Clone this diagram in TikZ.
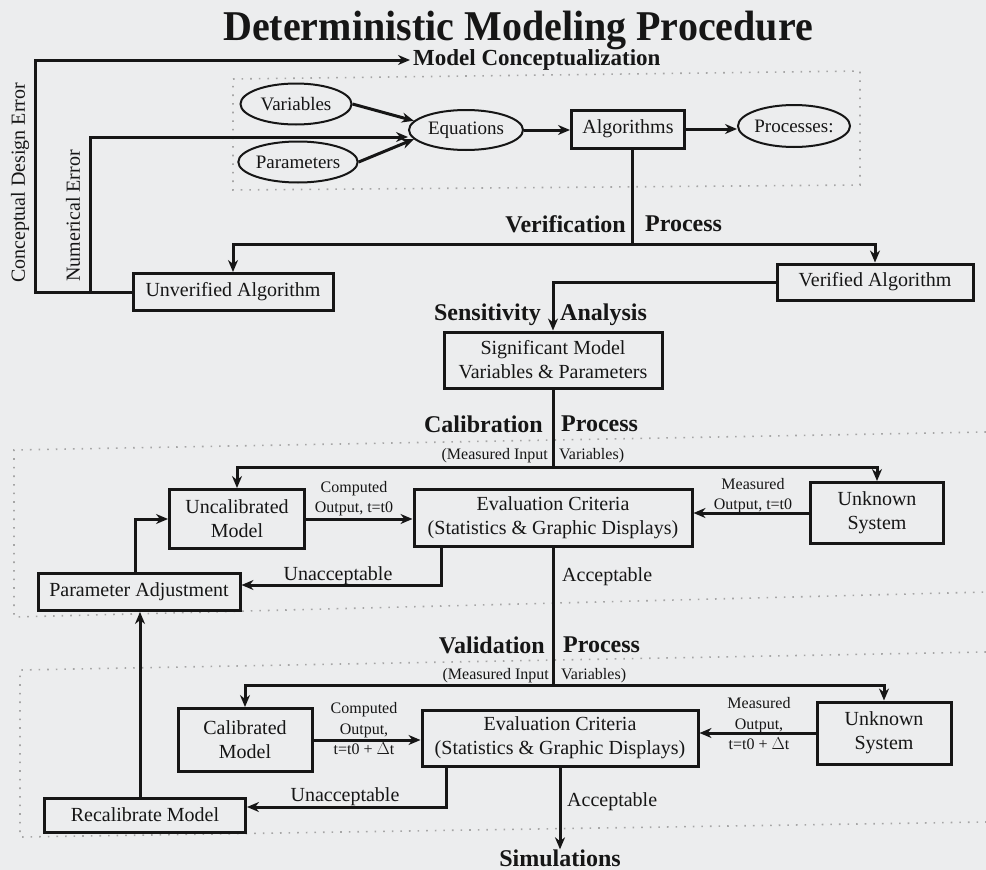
\documentclass[tikz,border=0pt]{standalone}
\usepackage{fontspec}
\usepackage{graphicx}
\setmainfont{Liberation Serif}
\usetikzlibrary{arrows.meta,calc,shapes.geometric}
\definecolor{bg}{RGB}{236,237,238}
\definecolor{ink}{RGB}{22,22,22}
\begin{document}
\begin{tikzpicture}[x=1pt,y=-1pt,
 arr/.style={-{Stealth[length=12pt,width=10pt]}, line width=3pt, draw=ink},
 ln/.style={line width=3pt, draw=ink},
 box/.style={draw=ink, line width=3pt, rectangle, inner sep=0pt, align=center, text=ink, font=\fontsize{20}{24}\selectfont},
 ell/.style={draw=ink, line width=2pt, ellipse, inner sep=0pt, text=ink, font=\fontsize{19}{22}\selectfont},
 lab/.style={font=\fontsize{24}{26}\selectfont\bfseries, inner sep=0pt, text=ink},
 txt/.style={font=\fontsize{20}{22}\selectfont, inner sep=0pt, text=ink},
 sm/.style={font=\fontsize{16}{20}\selectfont, inner sep=0pt, align=center, text=ink},
 dot/.style={line width=1.6pt, draw=gray!70, dash pattern=on 1.6pt off 7pt}]
\fill[bg] (0,0) rectangle (986,870);
\useasboundingbox (0,0) rectangle (986,870);

% dotted groupings
\draw[dot] (233,79) -- (860,71) -- (860,185) -- (233,190) -- cycle;
\draw[dot] (986,432) -- (14,450) -- (14,617) -- (986,592);
\draw[dot] (986,652) -- (20,670) -- (20,837) -- (986,822);

% title
\node[font=\fontsize{40}{44}\selectfont\bfseries, text=ink, anchor=base, inner sep=0pt] (title) at (518,40) {\scalebox{1}[1.06]{Deterministic Modeling Procedure}};
\node[lab, font=\fontsize{23}{26}\selectfont\bfseries, anchor=west, inner xsep=3pt] (mc) at (410,60) {Model Conceptualization};

% conceptualization
\node[ell, minimum width=111pt, minimum height=41pt] (var) at (296,104) {Variables};
\node[ell, minimum width=111pt, minimum height=41pt] (par) at (298,162) {Parameters};
\node[ell, minimum width=114pt, minimum height=40pt] (eq) at (466,130) {Equations};
\node[box, minimum width=113pt, minimum height=38pt] (alg) at (628,129) {Algorithms};
\node[ell, minimum width=112pt, minimum height=42pt] (proc) at (794,126) {Processes:};

\node[box, minimum width=200pt, minimum height=37pt] (unv) at (233,292) {Unverified Algorithm};
\node[box, minimum width=196pt, minimum height=36pt] (ver) at (875,282) {Verified Algorithm};
\node[box, minimum width=218pt, minimum height=56pt] (sig) at (553,360) {Significant Model\\Variables \& Parameters};

% calibration
\node[box, minimum width=135pt, minimum height=59pt] (unc) at (237,519) {Uncalibrated\\Model};
\node[box, minimum width=278pt, minimum height=57pt] (ev1) at (553,518) {Evaluation Criteria\\(Statistics \& Graphic Displays)};
\node[box, minimum width=133pt, minimum height=61pt] (uk1) at (877,513) {Unknown\\System};
\node[box, minimum width=202pt, minimum height=37pt] (pa) at (139,592) {Parameter Adjustment};

% validation
\node[box, minimum width=134pt, minimum height=63pt] (cal) at (245,740) {Calibrated\\Model};
\node[box, minimum width=276pt, minimum height=56pt] (ev2) at (560,738) {Evaluation Criteria\\(Statistics \& Graphic Displays)};
\node[box, minimum width=134pt, minimum height=62pt] (uk2) at (884,733) {Unknown\\System};
\node[box, minimum width=201pt, minimum height=34pt] (rec) at (145,815) {Recalibrate Model};
\node[lab] (sim) at (560,858) {Simulations};

% error feedback
\coordinate (cdeC) at (35,60);
\draw[arr] (unv.west) -| (cdeC) -- (mc.west);
\coordinate (neC) at (90,292);
\draw[arr] (neC) |- ($(eq.west)+(0,7)$);
\node[txt, rotate=90] (cdeL) at (20,183) {Conceptual Design Error};
\node[txt, rotate=90] (neL) at (73,216) {Numerical Error};

% conceptualization arrows
\draw[arr] (var.east) -- (eq.170);
\draw[arr] (par.east) -- (eq.190);
\draw[arr] (eq.east) -- (eq.east -| alg.west);
\draw[arr] (alg.east) -- (alg.east -| proc.west);

% verification
\coordinate (vC) at (632,244);
\draw[ln] (alg.south -| vC) -- (vC);
\draw[arr] (vC) -| (unv.north);
\draw[arr] (vC) -| (ver.north);
\node[lab, anchor=east] (verL) at (626,224) {Verification};
\node[lab, anchor=west] (verP) at (645,224) {Process};

% sensitivity
\draw[arr] (ver.west) -| (sig.north);
\node[lab, anchor=east] (senL) at (541,315) {Sensitivity};
\node[lab, anchor=west] (senA) at (560,315) {Analysis};

% calibration connectors
\coordinate (cC) at (553,467);
\draw[ln] (sig.south) -- (cC);
\draw[arr] (cC) -| (unc.north);
\draw[arr] (cC) -| (uk1.north);
\node[lab, anchor=east] (calL) at (543,424) {Calibration};
\node[lab, anchor=west] (calP) at (561,424) {Process};
\node[sm, anchor=east] (mi1) at (548,456) {(Measured Input};
\node[sm, anchor=west] (mv1) at (559,456) {Variables)};
\draw[arr] (unc.east) -- (unc.east -| ev1.west);
\draw[arr] (uk1.west) -- (uk1.west -| ev1.east);
\node[sm] (co1) at (354,499) {Computed\\Output, t=t0};
\node[sm] (mo1) at (753,496) {Measured\\Output, t=t0};
\coordinate (u1) at (441,585);
\draw[arr] (ev1.south -| u1) |- (pa.east |- u1);
\node[txt] (un1) at (338,576) {Unacceptable};
\draw[arr] ([xshift=-4pt]pa.north) |- (unc.west);
\node[txt, anchor=west] (ac1) at (562,577) {Acceptable};

% validation connectors
\coordinate (vvC) at (553,685);
\draw[ln] (ev1.south) -- (vvC);
\draw[arr] (vvC) -| (cal.north);
\draw[arr] (vvC) -| (uk2.north);
\node[lab, anchor=east] (valL) at (545,645) {Validation};
\node[lab, anchor=west] (valP) at (563,645) {Process};
\node[sm, anchor=east] (mi2) at (549,676) {(Measured Input};
\node[sm, anchor=west] (mv2) at (561,676) {Variables)};
\draw[arr] (cal.east) -- (cal.east -| ev2.west);
\draw[arr] (uk2.west) -- (uk2.west -| ev2.east);
\node[sm, font=\fontsize{16}{20.5}\selectfont] (co2) at (364,729) {Computed\\Output,\\t=t0 + $\Delta$t};
\node[sm, font=\fontsize{16}{20.5}\selectfont] (mo2) at (759,724) {Measured\\Output,\\t=t0 + $\Delta$t};
\coordinate (u2) at (446,807);
\draw[arr] (ev2.south -| u2) |- (rec.east |- u2);
\node[txt] (un2) at (345,797) {Unacceptable};
\coordinate (r1) at ([xshift=-5pt]rec.north);
\draw[arr] (r1) -- (r1 |- pa.south);
\draw[arr] (ev2.south) -- (sim.north);
\node[txt, anchor=west] (ac2) at (567,802) {Acceptable};
\end{tikzpicture}
\end{document}
